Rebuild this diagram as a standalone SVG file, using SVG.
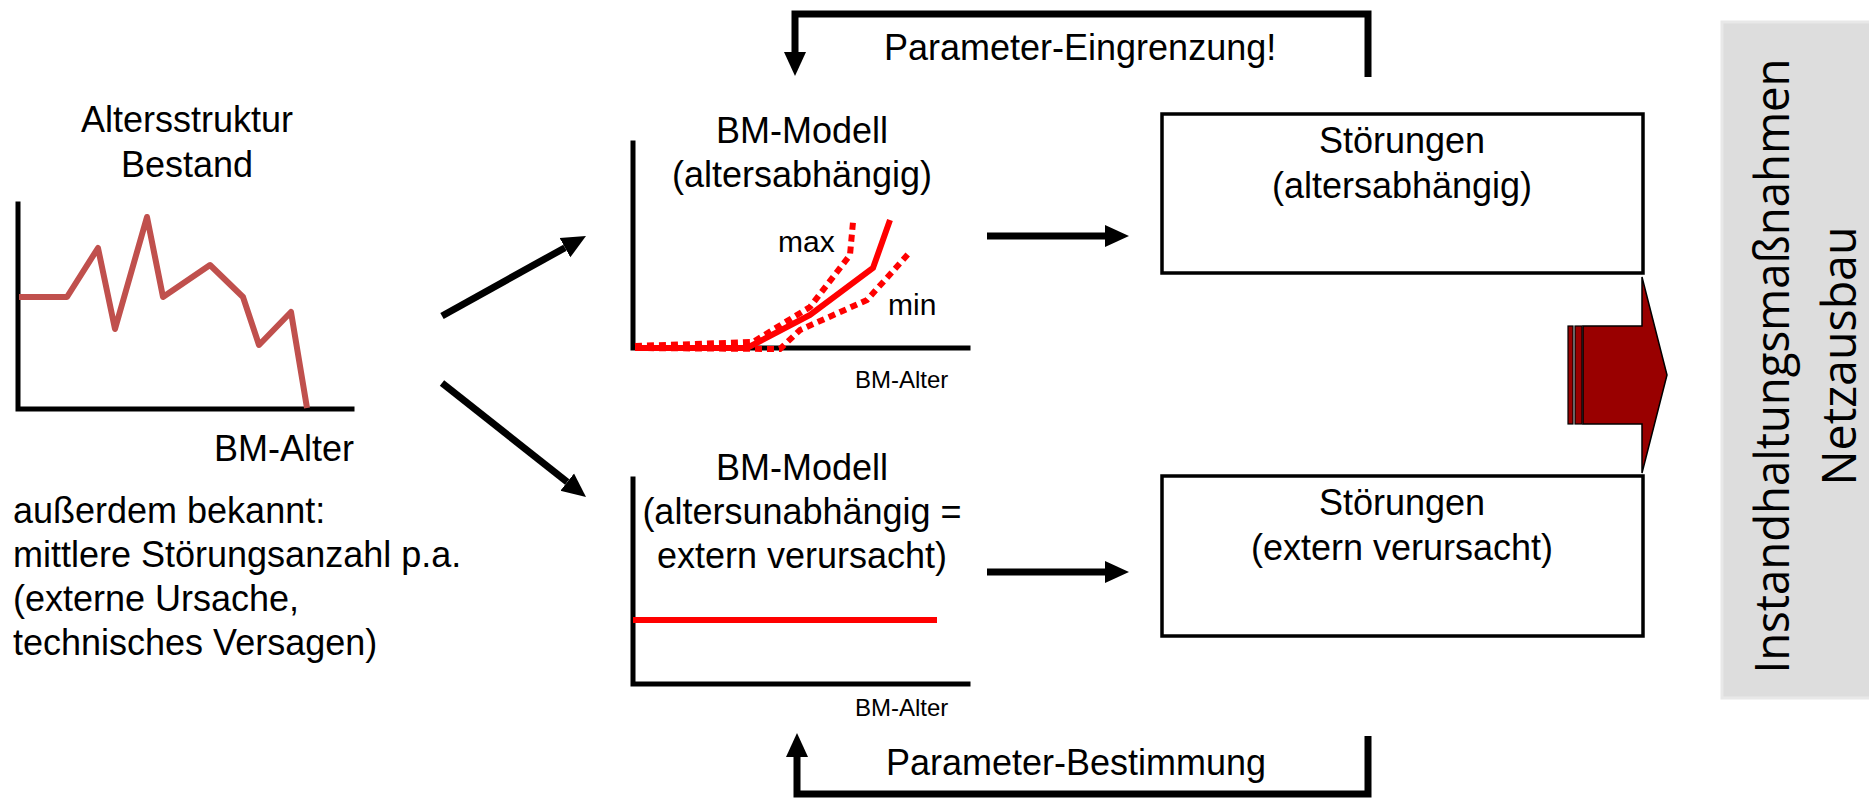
<svg xmlns="http://www.w3.org/2000/svg" width="1869" height="802" viewBox="0 0 1869 802">
<style>
text{font-family:"Liberation Sans",Arial,sans-serif;fill:#000}
.t36{font-size:36px}
.t30{font-size:30px}
.t24{font-size:24px}
.c{text-anchor:middle}
.axis{stroke:#000;stroke-width:5;fill:none;stroke-linecap:square}
.red{stroke:#FF0000;stroke-width:6;fill:none}
.dot{stroke:#FF0000;stroke-width:6;fill:none;stroke-dasharray:7 5}
.conn{stroke:#000;stroke-width:7;fill:none}
.box{fill:#fff;stroke:#000;stroke-width:3.5}
.cal{font-family:"Open Sans","Noto Sans",sans-serif;font-size:47px}
</style>
<defs>
<marker id="ah" markerUnits="userSpaceOnUse" markerWidth="24" markerHeight="24" viewBox="0 -12 24 24" refX="0" refY="0" orient="auto">
<path d="M0,-11 L24,0 L0,11 z" fill="#000"/>
</marker>
</defs>

<g id="altersstruktur">
<text class="t36 c" x="187" y="132">Altersstruktur</text>
<text class="t36 c" x="187" y="177">Bestand</text>
<path class="axis" d="M18,204 V409 H352"/>
<polyline points="19,297 67,297 98,248 115,329 147,217 163,297 210,265 243,297 259,345 291,312 307,408" fill="none" stroke="#C0504D" stroke-width="6" stroke-linejoin="round"/>
<text class="t36" x="354" y="461" text-anchor="end">BM-Alter</text>
</g>

<g id="bekannt">
<text class="t36" x="13" y="523">außerdem bekannt:</text>
<text class="t36" x="13" y="567">mittlere Störungsanzahl p.a.</text>
<text class="t36" x="13" y="611">(externe Ursache,</text>
<text class="t36" x="13" y="655">technisches Versagen)</text>
</g>

<g id="modell-altersabhaengig">
<text class="t36 c" x="802" y="143">BM-Modell</text>
<text class="t36 c" x="802" y="187">(altersabhängig)</text>
<path class="axis" d="M633,143 V348 H968"/>
<polyline class="dot" points="635,346 753,342 810,307 850,255 853,222"/>
<polyline class="dot" points="635,348 780,349 800,330 867,300 910,252"/>
<polyline class="red" points="635,348 747,348 810,315 873,268 890,220"/>
<text class="t30" x="778" y="252">max</text>
<text class="t30" x="888" y="315">min</text>
<text class="t24" x="855" y="388">BM-Alter</text>
</g>

<g id="modell-extern">
<text class="t36 c" x="802" y="480">BM-Modell</text>
<text class="t36 c" x="802" y="524">(altersunabhängig =</text>
<text class="t36 c" x="802" y="568">extern verursacht)</text>
<path class="axis" d="M633,479 V684 H968"/>
<line class="red" x1="633" y1="620" x2="937" y2="620"/>
<text class="t24" x="855" y="716">BM-Alter</text>
</g>

<g id="stoerungen-alter">
<rect class="box" x="1162" y="114" width="481" height="159"/>
<text class="t36 c" x="1402" y="153">Störungen</text>
<text class="t36 c" x="1402" y="198">(altersabhängig)</text>
</g>

<g id="stoerungen-extern">
<rect class="box" x="1162" y="476" width="481" height="160"/>
<text class="t36 c" x="1402" y="515">Störungen</text>
<text class="t36 c" x="1402" y="560">(extern verursacht)</text>
</g>

<g id="block-arrow">
<rect x="1568" y="326" width="5" height="98" fill="#990000" stroke="#000" stroke-width="1.2"/>
<rect x="1575" y="326" width="7" height="98" fill="#990000" stroke="#000" stroke-width="1.2"/>
<polygon points="1583,326 1642,326 1642,277 1667,375 1642,473 1642,424 1583,424" fill="#990000" stroke="#000" stroke-width="1.5"/>
</g>

<g id="massnahmen">
<rect x="1722" y="22" width="160" height="676" fill="#DDDDDD" stroke="#E8E8E8" stroke-width="3"/>
<text class="cal c" transform="translate(1789,366) rotate(-90)" textLength="615" lengthAdjust="spacingAndGlyphs">Instandhaltungsmaßnahmen</text>
<text class="cal c" transform="translate(1856,356) rotate(-90)" textLength="259" lengthAdjust="spacingAndGlyphs">Netzausbau</text>
</g>

<g id="connectors">
<line class="conn" x1="442" y1="316" x2="565" y2="247.7" marker-end="url(#ah)"/>
<line class="conn" x1="442" y1="383" x2="567.2" y2="482.1" marker-end="url(#ah)"/>
<line class="conn" x1="987" y1="236" x2="1105" y2="236" marker-end="url(#ah)"/>
<line class="conn" x1="987" y1="572" x2="1105" y2="572" marker-end="url(#ah)"/>
<path class="conn" d="M1368,77 V14 H795 V52" marker-end="url(#ah)"/>
<path class="conn" d="M1368,736 V794 H797 V757" marker-end="url(#ah)"/>
<text class="t36" x="884" y="60">Parameter-Eingrenzung!</text>
<text class="t36" x="886" y="775">Parameter-Bestimmung</text>
</g>
</svg>
